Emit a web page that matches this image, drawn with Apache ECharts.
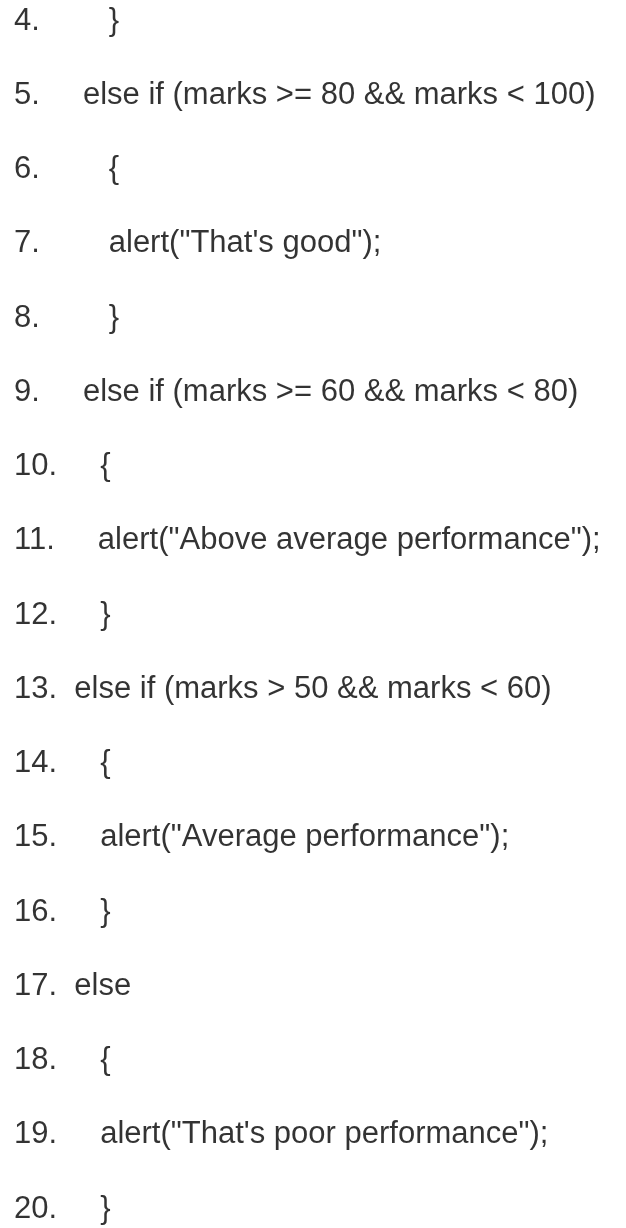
<!DOCTYPE html>
<html>
<head>
<meta charset="utf-8">
<style>
  html, body { margin: 0; padding: 0; background: #ffffff; }
  #chart { width: 626px; height: 1228px; }
</style>
<script src="https://cdn.jsdelivr.net/npm/echarts@6/dist/echarts.min.js"></script>
</head>
<body>
<div id="chart"></div>
<script>
// Line numbers of the code listing (used as the category axis)
const lineNumbers = ['4.', '5.', '6.', '7.', '8.', '9.', '10.', '11.', '12.', '13.', '14.', '15.', '16.', '17.', '18.', '19.', '20.'];

// Code text following each line number (leading whitespace is part of the listing)
const codeLines = [
  '        }',
  '     else if (marks >= 80 && marks < 100)',
  '        {',
  '        alert("That\'s good");',
  '        }',
  '     else if (marks >= 60 && marks < 80)',
  '     {',
  '     alert("Above average performance");',
  '     }',
  '  else if (marks > 50 && marks < 60)',
  '     {',
  '     alert("Average performance");',
  '     }',
  '  else',
  '     {',
  '     alert("That\'s poor performance");',
  '     }'
];

const chart = echarts.init(document.getElementById('chart'), null, { renderer: 'canvas' });

const option = {
  backgroundColor: '#ffffff',
  animation: false,
  grid: { left: 14, right: 0, top: 21, bottom: 19 },
  xAxis: { type: 'value', min: 0, max: 1, show: false },
  yAxis: {
    type: 'category',
    data: lineNumbers,
    inverse: true,
    boundaryGap: false,
    show: false
  },
  series: [{
    type: 'scatter',
    symbolSize: 0,
    silent: true,
    data: lineNumbers.map((n) => [0, n]),
    label: {
      show: true,
      position: 'right',
      distance: 0,
      color: '#000000',
      fontFamily: '"Liberation Sans", Arial, sans-serif',
      fontSize: 31,
      formatter: (p) => lineNumbers[p.dataIndex] + codeLines[p.dataIndex]
    }
  }]
};

chart.setOption(option);
</script>
</body>
</html>
